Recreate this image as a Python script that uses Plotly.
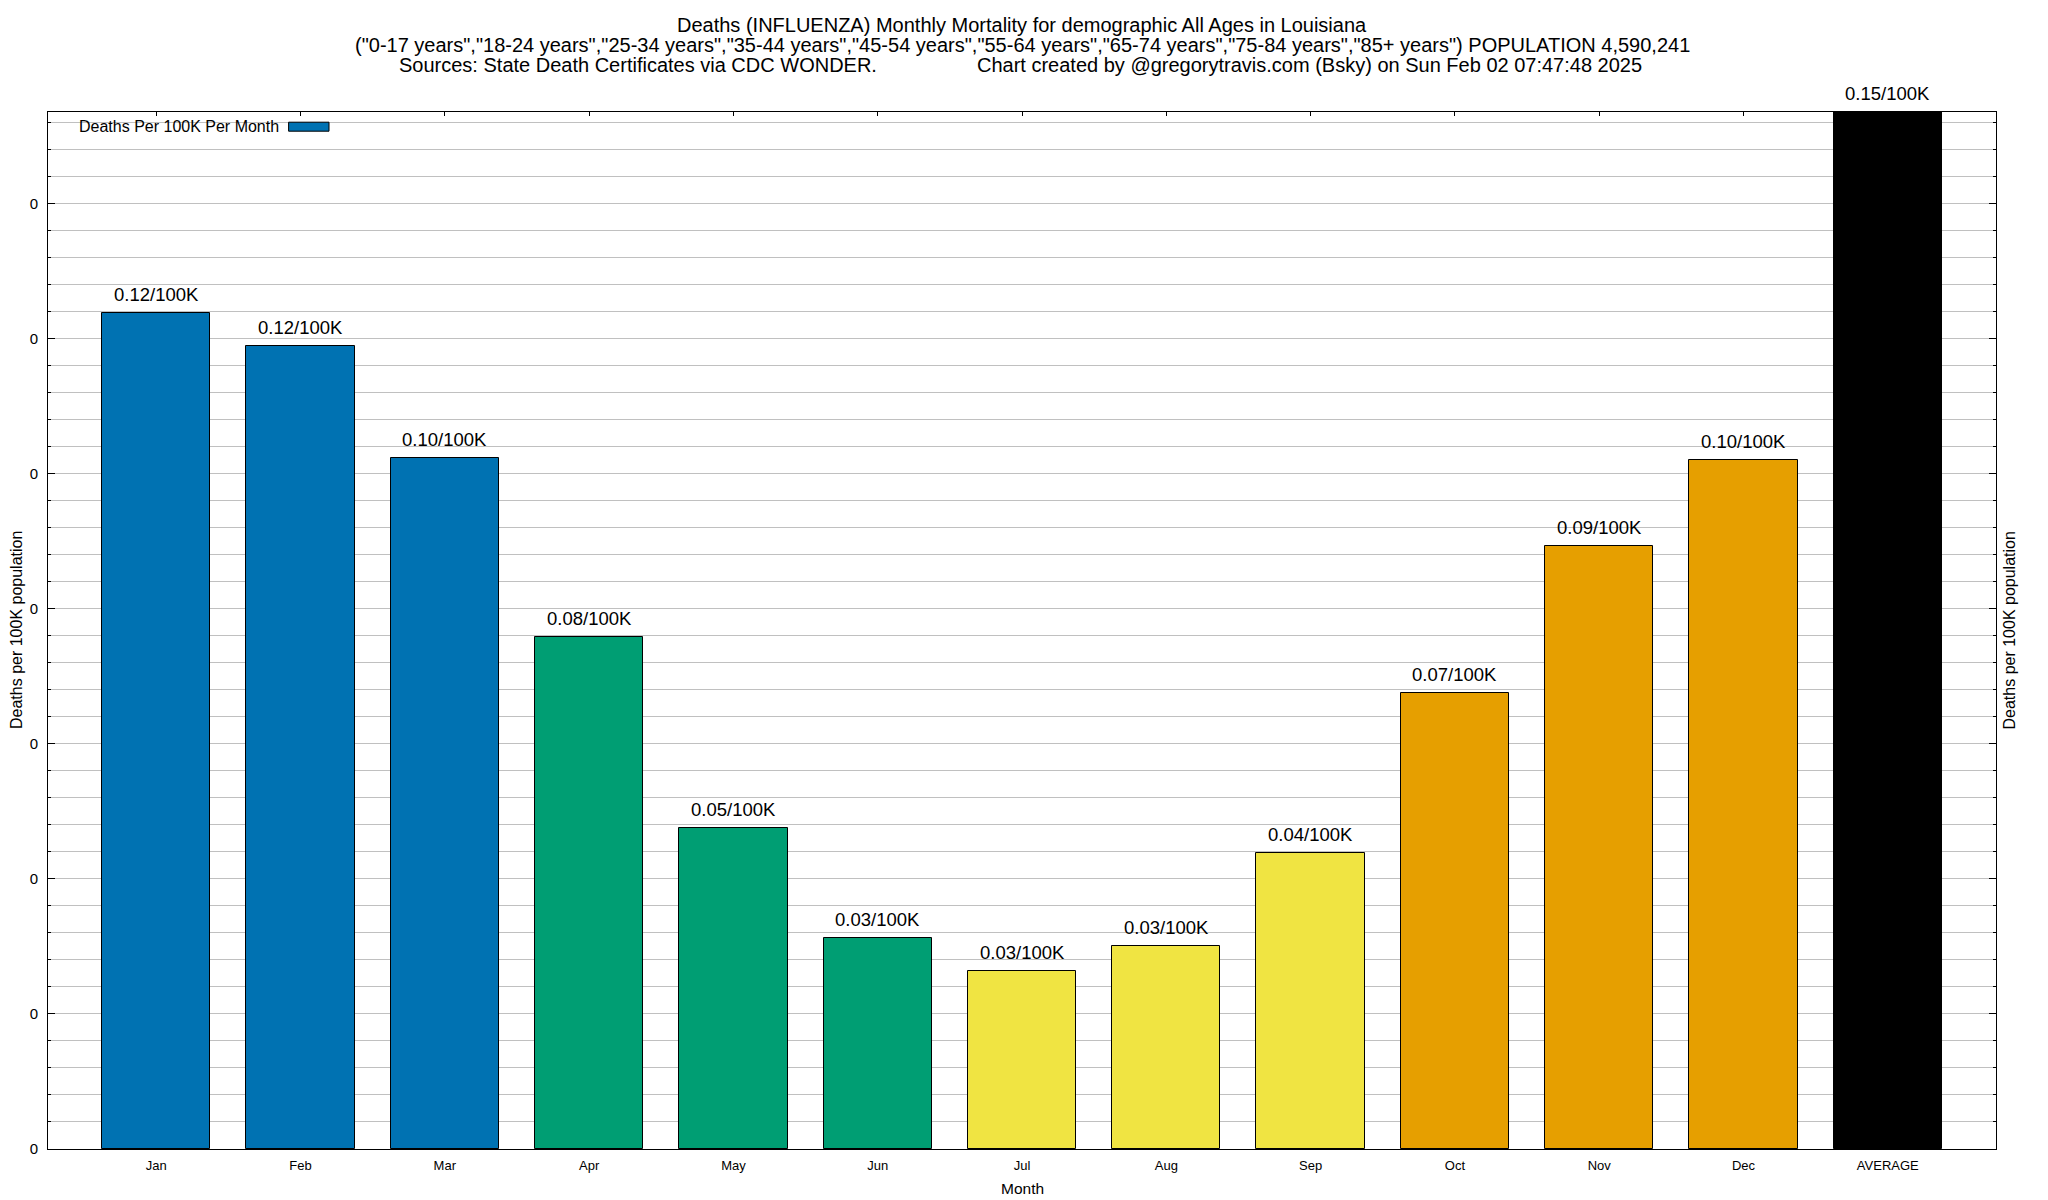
import plotly.graph_objects as go

# ---------------- data ----------------
months = ["Jan", "Feb", "Mar", "Apr", "May", "Jun", "Jul", "Aug", "Sep",
          "Oct", "Nov", "Dec", "AVERAGE"]
rates = [0.1238, 0.1189, 0.1023, 0.0758, 0.0476, 0.0312, 0.0264, 0.0301,
         0.0438, 0.0675, 0.0893, 0.1020, 0.1536]
y_ticks = [0.0, 0.02, 0.04, 0.06, 0.08, 0.10, 0.12, 0.14]
y_max = 0.1536

title_line1 = "Deaths (INFLUENZA) Monthly Mortality for demographic All Ages in Louisiana"
title_line2 = ('("0-17 years","18-24 years","25-34 years","35-44 years","45-54 years",'
               '"55-64 years","65-74 years","75-84 years","85+ years") POPULATION 4,590,241')
title_line3a = "Sources: State Death Certificates via CDC WONDER."
title_line3b = "Chart created by @gregorytravis.com (Bsky) on Sun Feb 02 07:47:48 2025"
legend_label = "Deaths Per 100K Per Month"
y_title = "Deaths per 100K population"
x_title = "Month"

# ---------------- styles ----------------
season_colors = ["#0072B2"] * 3 + ["#009E73"] * 3 + ["#F0E442"] * 3 + ["#E69F00"] * 3 + ["#000000"]
FONT = "Liberation Sans, Arial, Helvetica, sans-serif"
GRID = "#c0c0c0"

W, H = 2048, 1200
L, R, T, B = 48, 52, 112, 51
pw, ph = W - L - R, H - T - B


def px(xp):
    return (xp - L) / pw


def py(yp):
    return (H - B - yp) / ph


fig = go.Figure()
fig.add_trace(go.Bar(
    x=months, y=rates, width=0.75,
    marker=dict(color=season_colors, line=dict(color="black", width=1)),
    name=legend_label, showlegend=False, hoverinfo="x+y",
))

annotations = []
for m, v in zip(months, rates):
    annotations.append(dict(
        x=m, y=v, xref="x", yref="y", text=f"{v:.2f}/100K", showarrow=False,
        yanchor="bottom", yshift=6, font=dict(family=FONT, size=18.5, color="black"),
    ))

# titles
for txt, yp in [(title_line1, 25), (title_line2, 45.5)]:
    annotations.append(dict(x=0.5, y=py(yp), xref="paper", yref="paper", text=txt,
                            showarrow=False, xanchor="center", yanchor="middle",
                            font=dict(family=FONT, size=20, color="black")))
annotations.append(dict(x=px(879), y=py(65), xref="paper", yref="paper", text=title_line3a,
                        showarrow=False, xanchor="right", yanchor="middle",
                        font=dict(family=FONT, size=20, color="black")))
annotations.append(dict(x=px(975), y=py(65), xref="paper", yref="paper", text=title_line3b,
                        showarrow=False, xanchor="left", yanchor="middle",
                        font=dict(family=FONT, size=20, color="black")))

# axis titles
annotations.append(dict(x=px(16.5), y=0.5, xref="paper", yref="paper", text=y_title,
                        textangle=-90, showarrow=False, xanchor="center", yanchor="middle",
                        font=dict(family=FONT, size=16, color="black")))
annotations.append(dict(x=px(2009), y=0.5, xref="paper", yref="paper", text=y_title,
                        textangle=-90, showarrow=False, xanchor="center", yanchor="middle",
                        font=dict(family=FONT, size=16, color="black")))
annotations.append(dict(x=0.5, y=py(1188), xref="paper", yref="paper", text=x_title,
                        showarrow=False, xanchor="center", yanchor="middle",
                        font=dict(family=FONT, size=15.5, color="black")))

# legend (gnuplot style: label then key)
annotations.append(dict(x=px(77), y=py(126.7), xref="paper", yref="paper", text=legend_label,
                        showarrow=False, xanchor="left", yanchor="middle",
                        font=dict(family=FONT, size=16, color="black")))

shapes = [
    dict(type="rect", xref="paper", yref="paper", x0=px(49), x1=px(339), y0=py(137), y1=py(113.5),
         fillcolor="white", line=dict(width=0), layer="between"),
    dict(type="rect", xref="paper", yref="paper", x0=px(288.6), x1=px(329), y0=py(131.2), y1=py(122.2),
         fillcolor=season_colors[0], line=dict(color="black", width=1), layer="above"),
]

fig.update_layout(
    width=W, height=H,
    margin=dict(l=L, r=R, t=T, b=B, pad=0),
    paper_bgcolor="white", plot_bgcolor="white",
    font=dict(family=FONT, color="black"),
    showlegend=False,
    bargap=0,
    annotations=annotations,
    shapes=shapes,
    xaxis=dict(
        type="category", range=[-0.75, 12.75],
        showline=True, linecolor="black", linewidth=1, mirror="allticks",
        ticks="inside", ticklen=4, tickcolor="black", tickwidth=1,
        showgrid=False, zeroline=False, layer="below traces",
        tickfont=dict(family=FONT, size=13, color="black"),
        ticklabelstandoff=4,
    ),
    yaxis=dict(
        range=[0, y_max], tickvals=y_ticks, tickformat=".0f",
        showline=True, linecolor="black", linewidth=1, mirror="allticks",
        ticks="inside", ticklen=7, tickcolor="black", tickwidth=1,
        showgrid=True, gridcolor=GRID, gridwidth=1, zeroline=False,
        tickfont=dict(family=FONT, size=15, color="black"),
        ticklabelstandoff=6,
        minor=dict(dtick=0.004, tick0=0, ticks="inside", ticklen=3, tickcolor="black",
                   showgrid=True, gridcolor=GRID, gridwidth=1),
    ),
)

fig.write_html("out.html", config={"displayModeBar": False},
               post_script="document.body.style.margin='0';")
